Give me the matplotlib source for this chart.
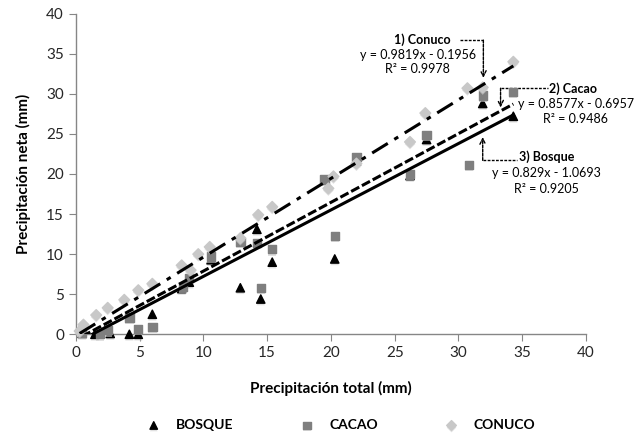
import matplotlib
matplotlib.use('Agg')
import matplotlib.pyplot as plt
import matplotlib.patheffects as pe
import numpy as np

plt.rcParams['font.family'] = ['Lato', 'DejaVu Sans']

# datos
bosque_x = [0.5, 1.5, 2.7, 4.2, 4.9, 6.0, 8.3, 8.9, 10.6, 12.9, 14.2, 14.5, 15.4, 20.3, 22.0, 26.2, 27.5, 31.9, 34.3]
bosque_y = [0.1, 0.0, 0.1, 0.0, 0.0, 2.5, 5.7, 6.5, 9.3, 5.8, 13.1, 4.4, 9.0, 9.4, 21.6, 19.8, 24.3, 28.8, 27.2]

cacao_x = [0.5, 1.9, 2.5, 4.2, 4.9, 6.0, 8.4, 8.9, 10.6, 12.9, 14.2, 14.5, 15.4, 19.5, 20.3, 22.0, 26.2, 27.5, 30.8, 31.9, 34.3]
cacao_y = [0.2, 0.0, 0.5, 2.1, 0.7, 0.9, 5.9, 7.0, 9.7, 11.5, 11.4, 5.8, 10.6, 19.3, 12.3, 22.1, 20.0, 24.9, 21.1, 29.8, 30.2]

conuco_x = [0.3, 0.6, 1.6, 2.5, 3.8, 4.9, 6.0, 8.3, 9.0, 9.6, 10.5, 12.9, 14.3, 15.4, 19.8, 20.2, 22.0, 26.2, 27.4, 30.7, 31.9, 34.3]
conuco_y = [0.4, 1.2, 2.4, 3.3, 4.3, 5.5, 6.3, 8.6, 8.0, 10.0, 10.9, 12.0, 14.9, 15.9, 18.2, 19.7, 21.3, 24.0, 27.6, 30.7, 30.8, 34.0]

# pendiente, intercepto, R2
conuco_fit = (0.9819, -0.1956, 0.9978)
cacao_fit = (0.8577, -0.6957, 0.9486)
bosque_fit = (0.829, -1.0693, 0.9205)

fig = plt.figure(figsize=(6.37, 4.36), dpi=100)
ax = fig.add_axes([0.119, 0.2333, 0.801, 0.7353])

shadow = [pe.SimplePatchShadow(offset=(0, -1.5), shadow_rgbFace='0.8', alpha=0.6), pe.Normal()]

ax.scatter(bosque_x, bosque_y, marker='^', s=36, color='black', zorder=3,
           label='BOSQUE', clip_on=False, path_effects=shadow)
ax.scatter(cacao_x, cacao_y, marker='s', s=36, color='#7f7f7f', zorder=3,
           label='CACAO', clip_on=False, path_effects=shadow)
ax.scatter(conuco_x, conuco_y, marker='D', s=30, color='#c8c8c8', zorder=3,
           label='CONUCO', clip_on=False, path_effects=shadow)

# lineas de tendencia
for xs, fit, ls in [(conuco_x, conuco_fit, (0, (6, 2.5, 1.5, 2.5))),
                    (cacao_x, cacao_fit, (0, (3, 1))),
                    (bosque_x, bosque_fit, '-')]:
    xx = np.array([min(xs), max(xs)])
    ax.plot(xx, fit[0] * xx + fit[1], color='black', lw=2.2, linestyle=ls, zorder=4)

ax.set_xlim(0, 40)
ax.set_ylim(0, 40)
ax.set_xticks(range(0, 45, 5))
ax.set_yticks(range(0, 45, 5))
for s in ['top', 'right']:
    ax.spines[s].set_visible(False)
for s in ['left', 'bottom']:
    ax.spines[s].set_color('#868686')
    ax.spines[s].set_linewidth(1.0)
ax.tick_params(colors='#868686', labelcolor='#262626', labelsize=11, length=5, direction='out')
ax.set_xlabel('Precipitación total (mm)', fontsize=11, fontweight='bold', labelpad=15)
ax.set_ylabel('Precipitación neta (mm)', fontsize=11, fontweight='bold', labelpad=11)

# anotaciones
arr = dict(arrowstyle='->', color='black', lw=1, linestyle=(0, (2, 1)), shrinkA=0, shrinkB=0)
seg = dict(color='black', lw=1, linestyle=(0, (2, 1)), clip_on=False)

ax.text(27.2, 36.7, '1) Conuco', fontsize=9, fontweight='bold', ha='center', va='center')
ax.text(26.8, 34.8, 'y = %.4fx - %.4f' % (conuco_fit[0], -conuco_fit[1]), fontsize=9, ha='center', va='center')
ax.text(26.8, 33.1, 'R² = %.4f' % conuco_fit[2], fontsize=9, ha='center', va='center')
ax.plot([30.1, 31.95], [36.7, 36.7], **seg)
ax.annotate('', xy=(31.95, 32.0), xytext=(31.95, 36.7), arrowprops=arr, annotation_clip=False)

ax.text(39.0, 30.7, '2) Cacao', fontsize=9, fontweight='bold', ha='center', va='center', clip_on=False)
ax.text(39.2, 28.7, 'y = %.4fx - %.4f' % (cacao_fit[0], -cacao_fit[1]), fontsize=9, ha='center', va='center', clip_on=False)
ax.text(39.2, 26.9, 'R² = %.4f' % cacao_fit[2], fontsize=9, ha='center', va='center', clip_on=False)
ax.plot([33.3, 37.0], [30.7, 30.7], **seg)
ax.annotate('', xy=(33.3, 28.3), xytext=(33.3, 30.7), arrowprops=arr, annotation_clip=False)

ax.text(36.9, 22.1, '3) Bosque', fontsize=9, fontweight='bold', ha='center', va='center', clip_on=False)
ax.text(36.9, 20.1, 'y = %.3fx - %.4f' % (bosque_fit[0], -bosque_fit[1]), fontsize=9, ha='center', va='center', clip_on=False)
ax.text(36.9, 18.1, 'R² = %.4f' % bosque_fit[2], fontsize=9, ha='center', va='center', clip_on=False)
ax.plot([31.9, 34.6], [21.7, 21.7], **seg)
ax.annotate('', xy=(31.9, 24.6), xytext=(31.9, 21.7), arrowprops=arr, annotation_clip=False)

leg = fig.legend(loc='center', bbox_to_anchor=(0.53, 0.025), ncol=3, frameon=False,
                 prop={'weight': 'bold', 'size': 10}, columnspacing=4.3, handletextpad=0.6,
                 markerscale=0.9)

fig.savefig('out.png', dpi=100)
